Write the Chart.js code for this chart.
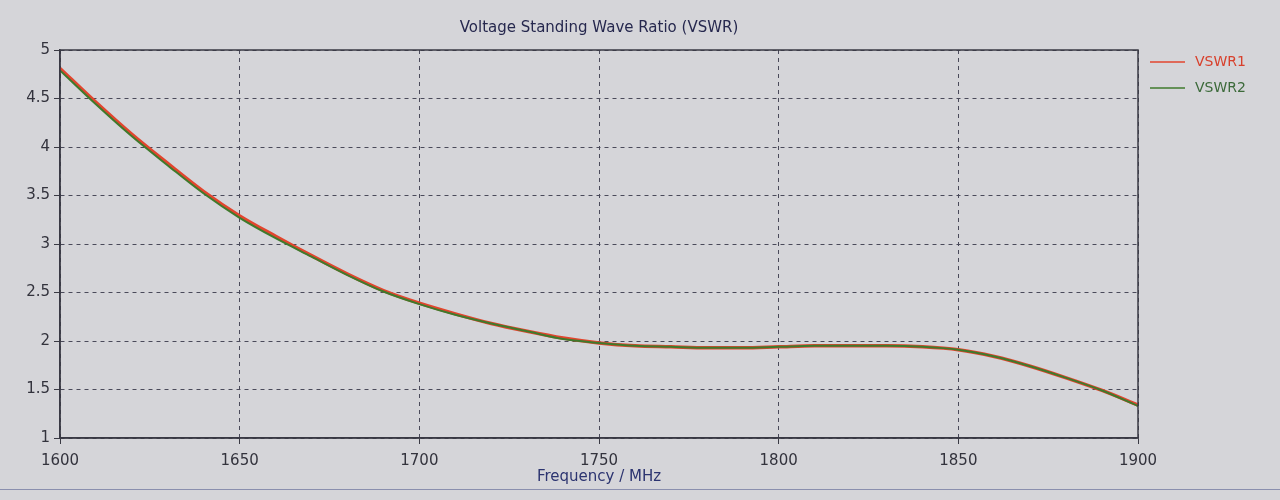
<!DOCTYPE html>
<html>
<head>
<meta charset="utf-8">
<title>VSWR</title>
<script src="https://cdn.jsdelivr.net/npm/chart.js@4.4.1/dist/chart.umd.min.js"></script>
<style>
    html, body {
        margin: 0;
        padding: 0;
        background: #d5d5d9;
    }
    .canvas_wrapper {
        position: relative;
        width: 1280px;
        height: 500px;
    }
    .screen_edge {
        position: absolute;
        left: 0;
        top: 489px;
        width: 1280px;
        height: 1px;
        background: #8a8fae;
    }
</style>
</head>
<body>
<div class="canvas_wrapper">
    <canvas id="popChart" width="1280" height="500"></canvas>
    <div class="screen_edge"></div>
</div>
<script>
// frequency points, MHz
let freqs = [1600, 1610, 1620, 1630, 1640, 1650, 1660, 1670, 1680, 1690,
    1700, 1710, 1720, 1730, 1740, 1750, 1760, 1770, 1780, 1790,
    1800, 1810, 1820, 1830, 1840, 1850, 1860, 1870, 1880, 1890, 1900]

let vswr1 = [4.81, 4.46, 4.13, 3.83, 3.54, 3.29, 3.08, 2.88, 2.69, 2.52,
    2.39, 2.28, 2.18, 2.10, 2.03, 1.98, 1.95, 1.94, 1.93, 1.93,
    1.94, 1.95, 1.95, 1.95, 1.94, 1.91, 1.84, 1.74, 1.62, 1.49, 1.34]

let vswr2 = [4.79, 4.44, 4.11, 3.81, 3.52, 3.27, 3.06, 2.87, 2.68, 2.51,
    2.38, 2.27, 2.18, 2.10, 2.02, 1.98, 1.95, 1.94, 1.93, 1.93,
    1.94, 1.95, 1.95, 1.95, 1.94, 1.91, 1.84, 1.74, 1.62, 1.49, 1.33]

let xTicks = [1600, 1650, 1700, 1750, 1800, 1850, 1900]
let yTicks = [1, 1.5, 2, 2.5, 3, 3.5, 4, 4.5, 5]

let seriesNames = ['VSWR1', 'VSWR2']
let colors = ['#e2452e', '#3f7a2c']
let textColors = ['#d8402c', '#3c6a3a']

const FONT = { family: 'DejaVu Sans', size: 15 }

function toPoints(ys) {
    return freqs.map((f, i) => ({ x: f, y: ys[i] }))
}

// solid frame round the plot + legend on the right
const framePlugin = {
    id: 'frame',
    afterDraw(chart) {
        let ctx = chart.ctx
        let a = chart.chartArea
        ctx.save()
        ctx.strokeStyle = '#3a3a44'
        ctx.lineWidth = 1.5
        ctx.setLineDash([])
        ctx.strokeRect(a.left, a.top, a.right - a.left, a.bottom - a.top)

        ctx.font = '14px ' + FONT.family
        ctx.textBaseline = 'middle'
        for (let k = 0; k < seriesNames.length; k++) {
            let y = a.top + 12 + k * 26
            ctx.strokeStyle = colors[k]
            ctx.lineWidth = 1.5
            ctx.beginPath()
            ctx.moveTo(a.right + 12, y)
            ctx.lineTo(a.right + 47, y)
            ctx.stroke()
            ctx.fillStyle = textColors[k]
            ctx.fillText(seriesNames[k], a.right + 57, y)
        }
        ctx.restore()
    }
}

let data = {
    datasets: [
        {
            label: seriesNames[1],
            data: toPoints(vswr2),
            borderColor: colors[1],
            borderWidth: 2,
            order: 0
        },
        {
            label: seriesNames[0],
            data: toPoints(vswr1),
            borderColor: colors[0],
            borderWidth: 3.5,
            order: 1
        }
    ]
}

const config = {
    type: 'line',
    data: data,
    plugins: [framePlugin],
    options: {
        animation: false,
        responsive: false,
        layout: {
            padding: { top: 0, right: 142, left: 0, bottom: 0 }
        },
        elements: {
            point: { radius: 0 },
            line: { tension: 0.4, cubicInterpolationMode: 'monotone' }
        },
        plugins: {
            legend: { display: false },
            tooltip: { enabled: false },
            title: {
                display: true,
                fullSize: false,
                text: 'Voltage Standing Wave Ratio (VSWR)',
                color: '#26284e',
                font: { family: FONT.family, size: 15, weight: 'normal' },
                padding: { top: 19, bottom: 13 }
            }
        },
        scales: {
            x: {
                type: 'linear',
                min: 1600,
                max: 1900,
                afterBuildTicks: (scale) => {
                    scale.ticks = xTicks.map(v => ({ value: v }))
                },
                afterFit: (scale) => {
                    scale.height = 62
                },
                ticks: {
                    color: '#33333d',
                    font: FONT,
                    padding: 8,
                    maxRotation: 0,
                    callback: (v) => String(v)
                },
                grid: {
                    color: '#4a4a5a',
                    lineWidth: 1,
                    tickLength: 6,
                    tickColor: '#3a3a44'
                },
                border: {
                    display: true,
                    color: '#3a3a44',
                    width: 1.5,
                    dash: [4, 4]
                },
                title: {
                    display: true,
                    text: 'Frequency / MHz',
                    color: '#2c3470',
                    font: FONT,
                    padding: { top: 0, bottom: 14 }
                }
            },
            y: {
                min: 1,
                max: 5,
                afterBuildTicks: (scale) => {
                    scale.ticks = yTicks.map(v => ({ value: v }))
                },
                afterFit: (scale) => {
                    scale.width = 60
                },
                ticks: {
                    color: '#33333d',
                    font: FONT,
                    padding: 4,
                    callback: (v) => String(v)
                },
                grid: {
                    color: '#4a4a5a',
                    lineWidth: 1,
                    tickLength: 6,
                    tickColor: '#3a3a44'
                },
                border: {
                    display: true,
                    color: '#3a3a44',
                    width: 1.5,
                    dash: [4, 4]
                }
            }
        }
    }
}

let barChart = new Chart(document.getElementById('popChart').getContext('2d'), config)
</script>
</body>
</html>
